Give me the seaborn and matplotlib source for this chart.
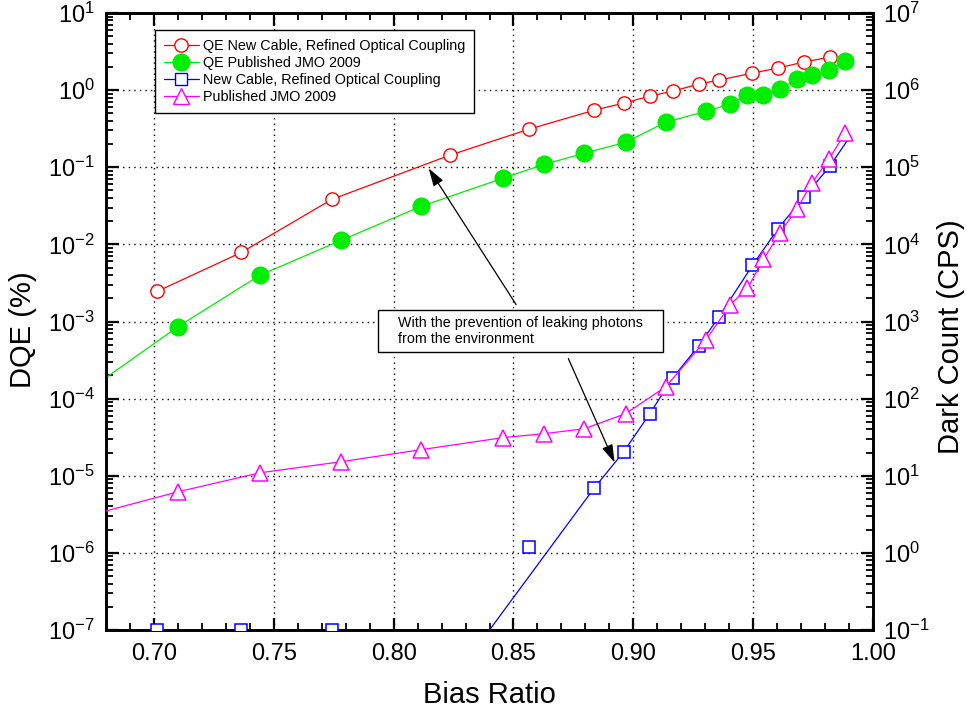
import numpy as np
import matplotlib
matplotlib.use("Agg")
import matplotlib.pyplot as plt
import seaborn as sns
from matplotlib.lines import Line2D
from matplotlib.patches import Rectangle
from matplotlib.ticker import LogLocator, MultipleLocator, FormatStrFormatter, NullFormatter

# ---------------- data ----------------
# bias ratio grid of the "new cable" measurements
x_new = [0.7013, 0.7365, 0.7743, 0.8234, 0.8565, 0.8838, 0.8960, 0.9069,
         0.9165, 0.9274, 0.9358, 0.9497, 0.9602, 0.9711, 0.9820]
qe_new = [2.45e-3, 7.87e-3, 0.0384, 0.143, 0.312, 0.550, 0.678, 0.836,
          0.970, 1.20, 1.35, 1.66, 1.93, 2.31, 2.68]
dark_new = [0.1, 0.1, 0.1, np.nan, 1.20, 7.0, 20.5, 64, 187, 488, 1160,
            5340, 15700, 40800, 103000]
# connecting line of the new-cable dark counts
dark_new_line_x = [0.8234, 0.8838, 0.8960, 0.9069, 0.9165, 0.9274, 0.9358,
                   0.9497, 0.9602, 0.9711, 0.9820, 0.9900]
dark_new_line_y = [0.02, 7.0, 20.5, 64, 187, 488, 1160, 5340, 15700, 40800,
                   103000, 240000]

# bias ratio grid of the JMO 2009 measurements
x_jmo = [0.7101, 0.7441, 0.7781, 0.8116, 0.8456, 0.8628, 0.8796, 0.8968,
         0.9136, 0.9304, 0.9405, 0.9476, 0.9543, 0.9610, 0.9682, 0.9744,
         0.9816, 0.9883]
qe_jmo = [8.6e-4, 3.96e-3, 0.0113, 0.0312, 0.072, 0.109, 0.152, 0.211,
          0.384, 0.533, 0.658, 0.861, 0.861, 1.03, 1.39, 1.57, 1.82, 2.38]
dark_jmo = [6.2, 10.9, 15.2, 21.8, 31.2, 35.1, 40.7, 63.8, 143, 583, 1660,
            2680, 6380, 13900, 28500, 62000, 127000, 277000]
# curve values where the JMO lines leave the left edge of the frame
edge_x = 0.68
qe_jmo_edge = 1.87e-4
dark_jmo_edge = 3.5

labels = ["QE New Cable, Refined Optical Coupling", "QE Published JMO 2009",
          "New Cable, Refined Optical Coupling", "Published JMO 2009"]
x_ticks = [0.70, 0.75, 0.80, 0.85, 0.90, 0.95, 1.00]

# ---------------- style ----------------
sns.set_style("white")
plt.rcParams["font.family"] = ["Liberation Sans", "DejaVu Sans"]
plt.rcParams["mathtext.fontset"] = "custom"
plt.rcParams["mathtext.rm"] = "Liberation Sans"
plt.rcParams["mathtext.it"] = "Liberation Sans:italic"
plt.rcParams["mathtext.bf"] = "Liberation Sans:bold"
plt.rcParams["axes.unicode_minus"] = False
for k in ("text.color", "axes.labelcolor", "xtick.color", "ytick.color",
          "axes.edgecolor"):
    plt.rcParams[k] = "black"

RED, GREEN, BLUE, MAG = "#FF0000", "#00EE00", "#0000FF", "#FF00FF"

fig = plt.figure(figsize=(9.67, 7.17), dpi=100)
ax = fig.add_axes([106 / 967, 1 - 630 / 717, 767 / 967, 617 / 717])
ax.set_yscale("log")
ax2 = ax.twinx()
ax2.set_yscale("log")
ax.set_xlim(0.68, 1.00)
ax.set_ylim(1e-7, 1e1)
ax2.set_ylim(1e-1, 1e7)

lw = 0.9
# red: QE new cable
sns.lineplot(x=x_new, y=qe_new, ax=ax, color=RED, lw=lw, marker="o", ms=9.6,
             mfc="white", mec=RED, mew=1.0, estimator=None, sort=False,
             legend=False, zorder=3)
# green: QE JMO 2009 (line continues to the left edge)
gx = [edge_x] + x_jmo
gy = [qe_jmo_edge] + qe_jmo
sns.lineplot(x=gx, y=gy, ax=ax, color=GREEN, lw=lw, marker="o", ms=12,
             mfc=GREEN, mec=GREEN, mew=1.0, markevery=list(range(1, len(gx))),
             estimator=None, sort=False, legend=False, zorder=3)

# blue: dark count new cable
bm = [(xx, yy) for xx, yy in zip(x_new, dark_new) if not np.isnan(yy)]
sns.lineplot(x=dark_new_line_x, y=dark_new_line_y, ax=ax2, color=BLUE, lw=lw,
             estimator=None, sort=False, legend=False, zorder=3)
sns.lineplot(x=[p[0] for p in bm], y=[p[1] for p in bm], ax=ax2, color=BLUE,
             lw=0, linestyle="none", marker="s", ms=8.5, mfc="white", mec=BLUE,
             mew=1.1, estimator=None, sort=False, legend=False, zorder=3)
# magenta: dark count JMO 2009
mx = [edge_x] + x_jmo
my = [dark_jmo_edge] + dark_jmo
sns.lineplot(x=mx, y=my, ax=ax2, color=MAG, lw=lw, marker="^", ms=11,
             mfc="white", mec=MAG, mew=1.1, markevery=list(range(1, len(mx))),
             estimator=None, sort=False, legend=False, zorder=4)

# ---------------- axes ----------------
for a in (ax, ax2):
    for s in a.spines.values():
        s.set_linewidth(1.9)
        s.set_color("black")

ax.xaxis.set_major_locator(matplotlib.ticker.FixedLocator(x_ticks))
ax.xaxis.set_minor_locator(MultipleLocator(0.01))
ax.xaxis.set_major_formatter(FormatStrFormatter("%.2f"))
for a in (ax, ax2):
    a.yaxis.set_major_locator(LogLocator(base=10, numticks=20))
    a.yaxis.set_minor_locator(LogLocator(base=10, subs=np.arange(2, 10), numticks=20))
    a.yaxis.set_minor_formatter(NullFormatter())

ax.tick_params(axis="x", which="both", direction="in", top=True, bottom=True,
               labelsize=17, pad=9, colors="black")
ax.tick_params(axis="y", which="both", direction="in", left=True, right=False,
               labelsize=17, pad=8, colors="black")
ax2.tick_params(axis="y", which="both", direction="in", right=True,
                labelsize=17, pad=7, colors="black")
for a in (ax, ax2):
    a.tick_params(which="major", length=9, width=1.6)
    a.tick_params(which="minor", length=5, width=1.3)
    a.xaxis.offsetText.set_visible(False)
    a.yaxis.offsetText.set_visible(False)

ax.grid(True, which="major", axis="both", color="black",
        linestyle=(0, (1, 3)), linewidth=1.0)
ax.set_axisbelow(True)

ax.set_xlabel("Bias Ratio", fontsize=21, color="black")
ax.set_ylabel("DQE (%)", fontsize=21, color="black")
ax2.set_ylabel("Dark Count (CPS)", fontsize=21, color="black")
ax.xaxis.set_label_coords(0.5, -0.082)
ax.yaxis.set_label_coords(-0.09, 0.486)
ax2.yaxis.set_label_coords(1.083, 0.475)

# ---------------- legend ----------------
handles = [
    Line2D([], [], color=RED, lw=lw, marker="o", ms=9.6, mfc="white", mec=RED),
    Line2D([], [], color=GREEN, lw=lw, marker="o", ms=12, mfc=GREEN, mec=GREEN),
    Line2D([], [], color=BLUE, lw=lw, marker="s", ms=8.5, mfc="white", mec=BLUE),
    Line2D([], [], color=MAG, lw=lw, marker="^", ms=11, mfc="white", mec=MAG),
]
leg = ax2.legend(handles, labels, loc="upper left",
                 bbox_to_anchor=(155 / 967, 1 - 30 / 717),
                 bbox_transform=fig.transFigure, borderaxespad=0,
                 fontsize=10.4, frameon=True, fancybox=False, shadow=False,
                 handlelength=2.4, handletextpad=0.3, labelspacing=0.2,
                 borderpad=0.62)
leg.get_frame().set_edgecolor("black")
leg.get_frame().set_linewidth(1.0)
leg.get_frame().set_facecolor("white")
leg.get_frame().set_alpha(1)

# ---------------- annotation ----------------
box = Rectangle((0.3546, 0.4506), 0.3716, 0.068, transform=ax2.transAxes,
                facecolor="white", edgecolor="black", lw=1.0, zorder=5)
ax2.add_patch(box)
ax2.text(0.3807, 0.4846,
         "With the prevention of leaking photons\nfrom the environment",
         transform=ax2.transAxes, ha="left", va="center", fontsize=10.3,
         linespacing=1.25, zorder=6)
arrow_kw = dict(arrowstyle="-|>,head_length=0.55,head_width=0.17",
                color="black", lw=0.9, shrinkA=0, shrinkB=0, mutation_scale=20)
ax2.annotate("", xy=(0.8146, 9.7e4), xytext=(0.8511, 1660),
             xycoords="data", textcoords="data", arrowprops=arrow_kw, zorder=6)
ax2.annotate("", xy=(0.8922, 14.8), xytext=(0.8729, 330),
             xycoords="data", textcoords="data", arrowprops=arrow_kw, zorder=6)

fig.savefig("out.png", dpi=100)
